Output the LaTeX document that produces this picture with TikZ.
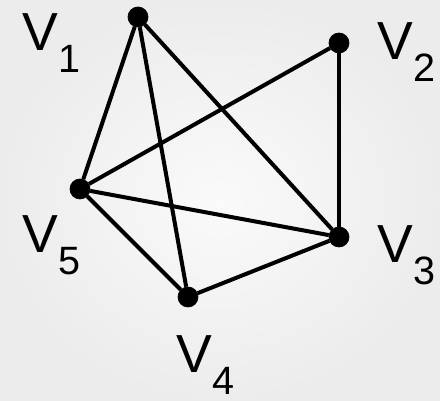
\documentclass[tikz,border=0pt]{standalone}
\usepackage{fontspec}
\setmainfont{Liberation Sans}
\usepackage{xcolor}
\usepackage{tikz}
\usetikzlibrary{positioning}
\definecolor{bgcorner}{RGB}{236, 236, 236}
\definecolor{bgcenter}{RGB}{250, 250, 250}
\newcommand{\vname}[1]{V\raisebox{-12.5pt}{\fontsize{22.5}{24}\selectfont #1}}

\begin{document}
\begin{tikzpicture}[
  x=0.02cm, y=-0.02cm,
  vertex/.style={circle, fill=black, draw=black, inner sep=0pt, minimum size=20*0.02cm},
  vlabel/.style={anchor=base west, inner sep=0pt, font=\fontsize{30.5}{33}\selectfont},
  edge/.style={line width=4*0.02cm, color=black}
]
\shade[inner color=bgcenter, outer color=bgcorner] (0,0) rectangle (440,401);
\useasboundingbox (0,0) rectangle (440,401);

\node[vertex] (v1) at (138,17) {};
\node[vertex] (v2) at (339,43) {};
\node[vertex] (v3) at (339,237) {};
\node[vertex] (v4) at (188,297) {};
\node[vertex] (v5) at (80,189) {};

\node[vlabel] (l1) at (22,51) {\vname{1}};
\node[vlabel] (l2) at (377,60) {\vname{2}};
\node[vlabel] (l3) at (377,263) {\vname{3}};
\node[vlabel] (l4) at (176,373) {\vname{4}};
\node[vlabel] (l5) at (22,253) {\vname{5}};

\draw[edge] (v1) -- (v5);
\draw[edge] (v1) -- (v4);
\draw[edge] (v1) -- (v3);
\draw[edge] (v2) -- (v5);
\draw[edge] (v2) -- (v3);
\draw[edge] (v5) -- (v3);
\draw[edge] (v5) -- (v4);
\draw[edge] (v4) -- (v3);
\end{tikzpicture}
\end{document}
